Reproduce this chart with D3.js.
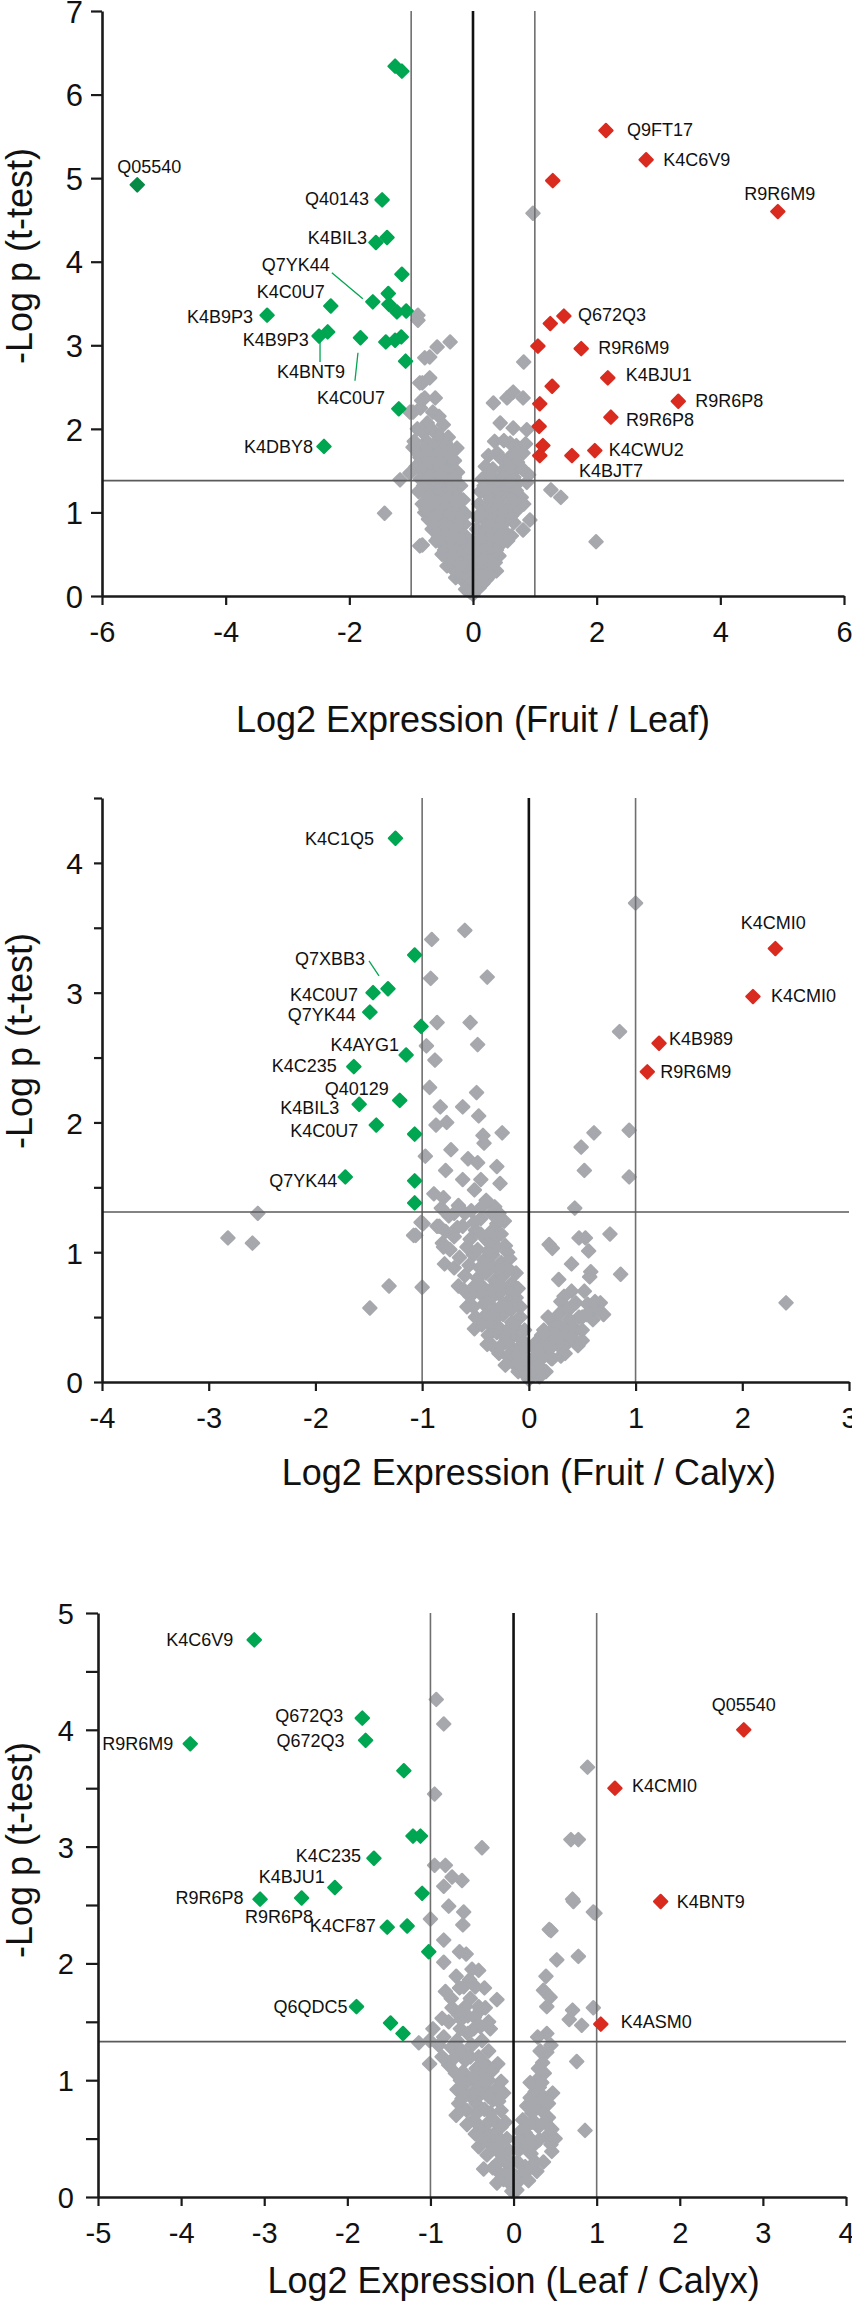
<!DOCTYPE html>
<html>
<head>
<meta charset="utf-8">
<script src="https://cdn.jsdelivr.net/npm/d3@7"></script>
<style>
body { margin: 0; background: #fff; }
text { font-family: "Liberation Sans", Arial, Helvetica, sans-serif; }
</style>
</head>
<body>
<svg id="chart" width="852" height="2303"></svg>
<script>
// ---------- data: Fruit / Leaf ----------
var fruitLeafXTicks = [-6, -4, -2, 0, 2, 4, 6];
var fruitLeafYTicks = [0, 1, 2, 3, 4, 5, 6, 7];
var fruitLeafCut = 1.38;
var fruitLeafDown = [
	[-5.43, 4.92, "Q05540"], [-1.26, 6.34, ""], [-1.15, 6.28, ""], [-1.47, 4.74, "Q40143"],
	[-1.57, 4.23, "K4BIL3"], [-1.39, 4.29, ""], [-1.15, 3.85, ""], [-1.62, 3.52, "Q7YK44"],
	[-2.30, 3.47, "K4C0U7"], [-3.33, 3.36, "K4B9P3"], [-1.37, 3.62, ""], [-1.36, 3.49, ""],
	[-1.23, 3.40, ""], [-1.08, 3.41, ""], [-2.49, 3.11, "K4BNT9"], [-2.35, 3.16, "K4B9P3"],
	[-1.82, 3.09, "K4C0U7"], [-1.41, 3.04, ""], [-1.26, 3.06, ""], [-1.16, 3.10, ""],
	[-1.09, 2.81, ""], [-1.20, 2.24, ""], [-2.41, 1.79, "K4DBY8"]
];
var fruitLeafUp = [
	[2.15, 5.57, "Q9FT17"], [2.80, 5.22, "K4C6V9"], [1.29, 4.97, ""], [4.93, 4.60, "R9R6M9"],
	[1.47, 3.35, "Q672Q3"], [1.25, 3.26, ""], [1.05, 2.99, ""], [1.75, 2.96, "R9R6M9"],
	[2.18, 2.61, "K4BJU1"], [1.28, 2.51, ""], [3.32, 2.33, "R9R6P8"], [1.08, 2.30, ""],
	[2.23, 2.14, "R9R6P8"], [1.07, 2.03, ""], [1.13, 1.80, ""], [1.97, 1.74, "K4CWU2"],
	[1.08, 1.68, ""], [1.60, 1.68, "K4BJT7"]
];
var fruitLeafGray = [
	[0.97,4.58],[-0.89,3.36],[-0.89,3.30],[-0.37,3.04],[-0.58,2.98],[-0.70,2.86],[-0.78,2.85],[0.82,2.80],
	[-0.70,2.61],[-0.82,2.55],[-0.86,2.55],[0.65,2.44],[0.33,2.31],[0.55,2.37],[0.81,2.37],[-0.61,2.37],
	[-0.78,2.37],[-0.83,2.34],[-1.02,2.20],[-0.97,2.20],[-0.48,2.05],[-0.74,2.07],[0.44,2.07],[0.65,2.01],
	[0.87,1.99],[-0.97,1.78],[-0.94,1.78],[-0.57,1.78],[-0.26,1.77],[0.39,1.71],[0.81,1.71],[0.60,1.83],
	[-0.83,1.63],[-0.86,1.66],[-0.48,1.59],[-1.18,1.39],[-1.02,1.47],[-0.81,1.48],[0.49,1.51],[0.23,1.35],
	[0.87,1.36],[1.26,1.27],[1.42,1.18],[-1.43,0.99],[-0.82,0.61],[-0.86,0.60],[-0.70,0.99],[-0.78,1.00],
	[0.81,0.79],[0.92,0.91],[1.99,0.65],
	[-0.85,2.25],[-0.65,2.20],[-0.55,2.15],
	[-0.90,2.00],[-0.80,1.95],[-0.65,1.98],[-0.55,1.92],[-0.40,1.90],
	[-0.95,1.85],[-0.75,1.85],[-0.62,1.82],[-0.45,1.84],[-0.35,1.75],
	[-0.88,1.70],[-0.72,1.72],[-0.60,1.68],[-0.50,1.72],[-0.40,1.66],[-0.30,1.62],
	[-0.92,1.55],[-0.80,1.52],[-0.68,1.56],[-0.58,1.50],[-0.45,1.52],[-0.35,1.50],[-0.25,1.48],
	[-0.85,1.40],[-0.74,1.38],[-0.62,1.42],[-0.52,1.36],[-0.42,1.38],[-0.32,1.34],[-0.20,1.32],
	[-0.88,1.25],[-0.76,1.22],[-0.66,1.26],[-0.55,1.20],[-0.45,1.24],[-0.36,1.18],[-0.26,1.20],[-0.16,1.15],
	[-0.82,1.10],[-0.70,1.08],[-0.60,1.12],[-0.50,1.05],[-0.40,1.08],[-0.30,1.02],[-0.20,1.04],[-0.12,0.98],
	[-0.72,0.92],[-0.62,0.95],[-0.52,0.90],[-0.42,0.94],[-0.34,0.88],[-0.24,0.90],[-0.14,0.86],
	[-0.66,0.80],[-0.56,0.76],[-0.46,0.80],[-0.38,0.74],[-0.28,0.77],[-0.18,0.72],[-0.10,0.70],
	[-0.60,0.66],[-0.50,0.62],[-0.42,0.60],[-0.32,0.63],[-0.22,0.58],[-0.12,0.60],[-0.06,0.55],
	[-0.50,0.50],[-0.40,0.46],[-0.30,0.48],[-0.20,0.44],[-0.10,0.45],
	[-0.42,0.36],[-0.32,0.32],[-0.22,0.34],[-0.14,0.30],[-0.06,0.32],
	[-0.28,0.22],[-0.18,0.20],[-0.10,0.18],[-0.04,0.14],
	[-0.12,0.08],[-0.05,0.05],[0.00,0.02],
	[-0.80,1.32],[-0.58,1.30],[-0.38,1.28],[-0.70,1.18],[-0.46,1.14],[-0.26,1.10],[-0.76,1.04],[-0.56,0.99],
	[-0.36,0.98],[-0.18,0.94],[-0.66,0.88],[-0.46,0.86],[-0.28,0.84],[-0.56,0.70],[-0.34,0.68],[-0.16,0.66],
	[-0.46,0.55],[-0.26,0.53],[-0.14,0.52],[-0.36,0.42],[-0.18,0.38],[-0.24,0.27],[-0.08,0.24],[-0.70,1.62],
	[-0.55,1.62],[-0.78,1.78],[-0.68,1.45],[-0.50,1.44],[-0.30,1.42],
	[0.35,1.85],[0.50,1.86],[0.70,1.80],[0.85,1.82],
	[0.25,1.68],[0.45,1.65],[0.62,1.68],[0.72,1.60],
	[0.20,1.55],[0.32,1.52],[0.55,1.55],[0.68,1.50],[0.80,1.52],[0.90,1.45],
	[0.15,1.40],[0.30,1.38],[0.42,1.40],[0.60,1.36],[0.72,1.35],
	[0.12,1.25],[0.22,1.22],[0.36,1.26],[0.50,1.22],[0.62,1.20],[0.78,1.18],
	[0.10,1.10],[0.20,1.06],[0.32,1.10],[0.45,1.05],[0.58,1.08],[0.70,1.02],[0.82,1.10],
	[0.08,0.94],[0.18,0.92],[0.30,0.96],[0.42,0.90],[0.55,0.92],[0.66,0.88],
	[0.06,0.80],[0.16,0.78],[0.28,0.80],[0.38,0.75],[0.50,0.78],[0.62,0.72],
	[0.05,0.64],[0.14,0.62],[0.24,0.65],[0.34,0.60],[0.45,0.62],
	[0.04,0.50],[0.12,0.48],[0.22,0.50],[0.32,0.46],[0.42,0.48],
	[0.03,0.36],[0.10,0.34],[0.20,0.36],[0.30,0.32],[0.38,0.30],
	[0.04,0.20],[0.12,0.22],[0.22,0.20],
	[0.04,0.08],[0.10,0.10],
	[0.26,1.46],[0.50,1.45],[0.66,1.42],[0.18,1.32],[0.40,1.32],[0.54,1.30],[0.70,1.26],[0.28,1.16],
	[0.42,1.15],[0.66,1.13],[0.14,1.00],[0.36,1.02],[0.50,0.99],[0.62,0.96],[0.24,0.86],[0.46,0.84],
	[0.12,0.70],[0.30,0.70],[0.40,0.68],[0.56,0.66],[0.10,0.56],[0.28,0.56],[0.38,0.55],[0.16,0.42],
	[0.26,0.42],[0.36,0.40],[0.08,0.28],[0.18,0.28],[0.28,0.25],[0.08,0.14],[0.16,0.15]
];

// ---------- data: Fruit / Calyx ----------
var fruitCalyxXTicks = [-4, -3, -2, -1, 0, 1, 2, 3];
var fruitCalyxYTicks = [0, 1, 2, 3, 4];
var fruitCalyxYMinor = [0.5, 1.5, 2.5, 3.5, 4.5];
var fruitCalyxCut = 1.31;
var fruitCalyxDown = [
	[-1.25, 4.19, "K4C1Q5"], [-1.07, 3.29, ""], [-1.32, 3.03, "Q7XBB3"], [-1.46, 3.00, "K4C0U7"],
	[-1.49, 2.85, "Q7YK44"], [-1.01, 2.74, ""], [-1.15, 2.52, "K4AYG1"], [-1.64, 2.43, "K4C235"],
	[-1.21, 2.17, "Q40129"], [-1.59, 2.14, "K4BIL3"], [-1.43, 1.98, "K4C0U7"], [-1.07, 1.91, ""],
	[-1.72, 1.58, "Q7YK44"], [-1.07, 1.55, ""], [-1.07, 1.38, ""]
];
var fruitCalyxUp = [
	[2.31, 3.34, "K4CMI0"], [2.10, 2.97, "K4CMI0"], [1.22, 2.61, "K4B989"], [1.11, 2.39, "R9R6M9"]
];
var fruitCalyxGray = [
	[1.00,3.69],[0.85,2.70],[-0.91,3.41],[-0.60,3.48],[-0.92,3.11],[-0.39,3.12],[-0.86,2.77],[-0.55,2.77],
	[-0.96,2.59],[-0.48,2.60],[-0.88,2.48],[-0.93,2.27],[-0.49,2.23],[-0.83,2.12],[-0.62,2.12],[-0.47,2.05],
	[-0.87,1.98],[-0.77,2.00],[-0.43,1.90],[-0.25,1.92],[-0.97,1.74],[-0.73,1.79],[-0.57,1.72],[-0.42,1.84],
	[-0.30,1.66],[-0.48,1.69],[-0.78,1.63],[-0.62,1.56],[-0.45,1.56],[-0.27,1.53],[-0.89,1.45],[-0.80,1.42],
	[-0.51,1.48],[-0.40,1.40],[-0.32,1.35],[-0.70,1.30],[-1.01,1.23],[-0.86,1.20],[-0.67,1.19],[-0.51,1.23],
	[-0.23,1.24],[-1.08,1.13],[-0.81,1.07],[-0.39,1.09],[0.19,1.06],
	[0.61,1.92],[0.49,1.81],[0.94,1.94],[0.52,1.63],[0.94,1.58],[0.43,1.34],[0.76,1.14],[0.47,1.11],
	[0.53,1.11],[0.22,1.03],[0.56,1.01],[0.40,0.91],[0.58,0.85],[0.57,0.81],[0.86,0.83],[0.28,0.79],
	[2.41,0.61],[0.67,0.61],[0.70,0.52],[0.33,0.66],[0.44,0.61],[0.47,0.50],[0.43,0.39],[0.44,0.30],
	[0.31,0.27],[0.21,0.18],[0.16,0.35],[0.24,0.45],[0.08,0.11],
	[-2.54,1.30],[-2.82,1.11],[-2.59,1.07],[-1.31,0.74],[-1.00,0.73],[-1.49,0.57],[-1.06,1.13],[-0.99,1.22],
	[-0.84,1.20],[-0.80,1.04],[-0.79,0.91],[-0.58,0.58],[-0.51,0.41],[-0.39,0.29],[-0.61,0.71],
	[-0.75,1.28],[-0.60,1.30],[-0.45,1.26],[-0.35,1.30],[-0.30,1.22],
	[-0.70,1.12],[-0.55,1.10],[-0.45,1.14],[-0.38,1.08],[-0.30,1.12],[-0.22,1.05],
	[-0.65,0.96],[-0.52,0.98],[-0.42,0.94],[-0.34,0.98],[-0.26,0.92],[-0.18,0.95],
	[-0.60,0.82],[-0.48,0.80],[-0.40,0.84],[-0.32,0.78],[-0.24,0.82],[-0.16,0.76],
	[-0.55,0.66],[-0.45,0.68],[-0.36,0.64],[-0.28,0.68],[-0.20,0.62],[-0.12,0.65],
	[-0.50,0.50],[-0.40,0.52],[-0.32,0.48],[-0.24,0.52],[-0.16,0.46],[-0.08,0.50],
	[-0.38,0.36],[-0.30,0.38],[-0.22,0.34],[-0.14,0.36],[-0.06,0.32],
	[-0.28,0.22],[-0.20,0.20],[-0.12,0.22],[-0.05,0.18],
	[-0.10,0.08],[-0.04,0.06],[0.00,0.02],
	[-0.82,1.34],[-0.66,1.36],[-0.54,1.32],[-0.44,1.35],[-0.28,1.30],
	[-0.78,1.16],[-0.62,1.20],[-0.50,1.17],[-0.34,1.17],[-0.26,1.14],
	[-0.74,1.02],[-0.58,1.04],[-0.48,1.02],[-0.38,1.01],[-0.30,1.04],[-0.20,1.00],
	[-0.70,0.88],[-0.56,0.90],[-0.46,0.88],[-0.36,0.90],[-0.28,0.86],[-0.20,0.88],[-0.12,0.84],
	[-0.66,0.74],[-0.52,0.73],[-0.44,0.74],[-0.36,0.71],[-0.26,0.74],[-0.18,0.70],[-0.10,0.72],
	[-0.52,0.58],[-0.42,0.60],[-0.32,0.56],[-0.24,0.60],[-0.16,0.56],[-0.08,0.58],
	[-0.44,0.44],[-0.36,0.44],[-0.28,0.42],[-0.20,0.40],[-0.12,0.42],[-0.04,0.40],
	[-0.34,0.28],[-0.26,0.28],[-0.18,0.28],[-0.10,0.26],[-0.03,0.26],
	[-0.22,0.13],[-0.14,0.14],[-0.07,0.12],[0.02,0.12],
	[0.30,0.62],[0.40,0.58],[0.55,0.60],[0.62,0.55],
	[0.18,0.50],[0.28,0.52],[0.38,0.48],[0.50,0.50],[0.60,0.48],
	[0.14,0.40],[0.24,0.42],[0.32,0.38],[0.42,0.42],
	[0.10,0.30],[0.18,0.32],[0.28,0.28],[0.36,0.30],[0.46,0.28],
	[0.06,0.20],[0.14,0.22],[0.22,0.18],[0.30,0.20],
	[0.04,0.10],[0.10,0.12],[0.16,0.08],
	[0.06,0.30],[0.12,0.36],[0.22,0.36],[0.28,0.44],[0.36,0.42],[0.20,0.26],[0.26,0.34],[0.34,0.22],
	[0.40,0.34],[0.50,0.40],[0.54,0.52],[0.62,0.62],[0.10,0.04],[0.06,0.15],[0.12,0.18],[0.08,0.24],
	[0.40,0.70],[0.52,0.70],[0.36,0.56],[0.50,0.32]
];

// ---------- data: Leaf / Calyx ----------
var leafCalyxXTicks = [-5, -4, -3, -2, -1, 0, 1, 2, 3, 4];
var leafCalyxYTicks = [0, 1, 2, 3, 4, 5];
var leafCalyxYMinor = [0.5, 1.5, 2.5, 3.5, 4.5];
var leafCalyxCut = 1.33;
var leafCalyxDown = [
	[-3.12, 4.77, "K4C6V9"], [-1.82, 4.10, "Q672Q3"], [-3.89, 3.88, "R9R6M9"], [-1.78, 3.91, "Q672Q3"],
	[-1.32, 3.65, ""], [-1.21, 3.09, ""], [-1.12, 3.09, ""], [-1.68, 2.90, "K4C235"],
	[-2.15, 2.65, "K4BJU1"], [-3.05, 2.55, "R9R6P8"], [-2.55, 2.56, "R9R6P8"], [-1.10, 2.60, ""],
	[-1.52, 2.31, "K4CF87"], [-1.28, 2.32, ""], [-1.02, 2.10, ""], [-1.89, 1.63, "Q6QDC5"],
	[-1.48, 1.49, ""], [-1.33, 1.40, ""]
];
var leafCalyxUp = [
	[2.77, 4.00, "Q05540"], [1.22, 3.50, "K4CMI0"], [1.77, 2.53, "K4BNT9"], [1.05, 1.48, "K4ASM0"]
];
var leafCalyxGray = [
	[-0.93,4.26],[-0.84,4.05],[0.89,3.68],[-0.95,3.45],[0.69,3.06],[0.78,3.06],[-0.38,2.99],[-0.95,2.84],
	[-0.82,2.84],[-0.74,2.74],[-0.62,2.71],[-0.84,2.66],[0.71,2.55],[0.96,2.44],[-0.78,2.49],[-0.60,2.44],
	[-1.00,2.38],[-0.61,2.33],[0.43,2.29],
	[-0.84,2.20],[-0.57,2.08],[-0.84,2.01],[-0.42,1.94],[-0.69,1.89],[-0.53,1.86],[-0.35,1.79],[-0.82,1.76],
	[-0.65,1.79],[-0.20,1.69],[-0.42,1.63],[-0.74,1.62],[-0.58,1.63],[-0.86,1.53],[-0.63,1.52],[-0.47,1.54],
	[-0.28,1.44],[-0.48,1.44],[-0.97,1.44],[-1.14,1.32],[-1.01,1.34],[-0.84,1.37],[-0.68,1.34],[-0.38,1.34],
	[-1.01,1.14],[-0.78,1.13],[-0.58,1.17],[-0.42,1.20],[-0.19,1.14],[-0.61,1.07],[-0.38,1.06],[-0.55,0.99],
	[-0.35,0.94],[-0.15,0.99],[-0.68,0.92],[-0.12,0.89],[-0.66,0.80],[-0.45,0.80],[-0.25,0.83],[-0.69,0.70],
	[-0.48,0.66],[-0.28,0.72],[-0.15,0.74],[-0.35,0.57],[-0.22,0.55],[-0.42,0.43],[-0.25,0.43],[-0.12,0.37],
	[-0.19,0.29],[-0.09,0.20],[-0.05,0.12],[-0.02,0.05],
	[-0.50,1.30],[-0.30,1.25],[-0.55,1.40],[-0.70,1.20],[-0.45,1.10],[-0.30,1.00],[-0.50,0.85],[-0.35,0.75],
	[-0.60,0.90],[-0.40,0.60],[-0.30,0.50],[-0.20,0.40],[-0.10,0.30],[-0.15,0.60],[-0.08,0.50],[-0.25,0.25],
	[-0.12,0.15],[-0.05,0.22],[-0.55,1.55],[-0.40,1.60],[-0.30,1.50],[-0.75,1.70],[-0.50,1.95],[-0.65,2.10],
	[-0.75,1.28],[-0.62,1.25],[-0.52,1.20],[-0.34,1.14],[-0.26,1.08],[-0.70,1.06],[-0.50,1.02],[-0.42,0.96],
	[-0.22,0.92],[-0.62,0.84],[-0.40,0.88],[-0.30,0.86],[-0.18,0.82],[-0.56,0.74],[-0.44,0.72],[-0.24,0.66],
	[-0.10,0.64],[-0.56,0.62],[-0.46,0.54],[-0.36,0.48],[-0.14,0.48],[-0.32,0.36],[-0.06,0.40],[-0.30,0.64],
	[-0.16,0.20],[-0.04,0.30],[-0.20,0.12],[-0.36,0.24],[-0.64,1.44],[-0.40,1.46],[-0.66,1.56],[-0.34,1.62],
	[-0.52,1.70],[-0.60,1.80],[-0.46,1.80],[-0.78,1.50],[-0.90,1.30],[-0.86,1.20],[-0.64,1.00],[-0.48,0.90],
	[0.29,1.37],[0.40,1.24],[0.37,1.06],[0.31,0.94],[0.47,0.89],[0.37,0.85],[0.34,0.74],[0.11,0.66],
	[0.27,0.63],[0.40,0.52],[0.14,0.55],[0.31,0.49],[0.46,0.39],[0.36,0.30],[0.21,0.37],[0.11,0.43],
	[0.14,0.26],[0.08,0.15],[0.04,0.06],[0.86,0.57],[0.76,1.16],[0.39,1.89],[0.36,1.77],[0.44,1.71],
	[0.40,1.63],[0.52,2.03],[0.45,2.28],[0.78,2.06],[0.96,1.62],[0.71,1.60],[0.67,1.52],[0.82,1.47],
	[0.98,2.43],[0.72,2.53],
	[0.05,0.30],[0.10,0.20],[0.20,0.50],[0.25,0.45],[0.25,0.75],[0.20,0.85],[0.15,0.60],[0.30,0.60],
	[0.45,0.45],[0.38,0.65],[0.28,1.00],[0.35,1.15],[0.32,1.25],[0.20,0.25],
	[0.02,0.18],[0.18,0.14],[0.26,0.30],[0.28,0.22],[0.22,0.64],[0.06,0.40],[0.18,0.44],[0.08,0.56],
	[0.22,0.72],[0.16,0.78],[0.30,0.82],[0.42,0.80],[0.26,0.90],[0.20,0.98],[0.34,0.98],[0.42,0.68],
	[0.46,0.58],[0.50,0.50],[0.06,0.48],[0.30,1.10],[0.40,1.40],[0.45,1.30]
];

// ---------- layout ----------
var GRAY = "#a6a8ad", GREEN = "#00a651", DARKGREEN = "#068a45", RED = "#d92b1f";

// label offsets from the marker: [dx, dy, anchor, leader]
var fruitLeafDownPlace = {
	0: [12, -12, "middle"], 3: [-13, 5, "end"], 4: [-9, 2, "end"],
	7: [-43, -31, "end", [-41, -29, -10, -3]], 8: [-6, -8, "end"], 9: [-14, 8, "end"],
	14: [-8, 42, "middle", [1, 6, 1, 26]], 15: [-19, 14, "end"],
	16: [-9.5, 66, "middle", [-2.5, 15, -5.5, 43]], 22: [-11, 7, "end"]
};
var fruitLeafUpPlace = {
	0: [21, 5, "start"], 1: [17, 6, "start"], 3: [2, -12, "middle"], 4: [14, 5, "start"],
	7: [17, 5, "start"], 8: [18, 3, "start"], 10: [17, 6, "start"], 12: [15, 9, "start"],
	15: [14, 5, "start"], 17: [7, 21, "start"]
};
var fruitCalyxDownPlace = {
	0: [-21.5, 7, "end"], 2: [-23, -24, "end", [-19, -28, -9, -13]], 3: [-15, 8, "end"],
	4: [-14, 9, "end"], 6: [-7, -4, "end"], 7: [-17, 5, "end"], 8: [-11, -5, "end"],
	9: [-20, 10, "end"], 10: [-18, 12, "end"], 12: [-8, 10, "end"]
};
var fruitCalyxUpPlace = {
	0: [-2, -20, "middle"], 1: [18, 5, "start"], 2: [10, 2, "start"], 3: [13, 6, "start"]
};
var leafCalyxDownPlace = {
	0: [-21, 6, "end"], 1: [-19, 4, "end"], 2: [-17, 6, "end"], 3: [-21, 7, "end"],
	7: [-13, 4, "end"], 8: [-10, -4.5, "end"], 9: [-16.5, 5, "end"], 10: [-22.5, 25, "middle"],
	12: [-11.5, 5, "end"], 15: [-9, 6, "end"]
};
var leafCalyxUpPlace = {
	0: [0, -19, "middle"], 1: [17, 4, "start"], 2: [16, 6.5, "start"], 3: [20, 4, "start"]
};

var panels = [
	{
		gray: fruitLeafGray, down: fruitLeafDown, up: fruitLeafUp,
		downPlace: fruitLeafDownPlace, upPlace: fruitLeafUpPlace,
		xDomain: [-6, 6], xRange: [102, 844], yDomain: [0, 7], yRange: [596, 11],
		xTicks: fruitLeafXTicks, yTicks: fruitLeafYTicks, yMinor: [], cut: fruitLeafCut,
		yTick: 11, yPad: 8, yFont: 31, title: "Log2 Expression (Fruit / Leaf)", titleY: 732,
		yTitleY: 256, darkFirst: true
	},
	{
		gray: fruitCalyxGray, down: fruitCalyxDown, up: fruitCalyxUp,
		downPlace: fruitCalyxDownPlace, upPlace: fruitCalyxUpPlace,
		xDomain: [-4, 3], xRange: [102, 849], yDomain: [0, 4.5], yRange: [1382, 798],
		xTicks: fruitCalyxXTicks, yTicks: fruitCalyxYTicks, yMinor: fruitCalyxYMinor, cut: fruitCalyxCut,
		yTick: 8, yPad: 11, yFont: 30, title: "Log2 Expression (Fruit / Calyx)", titleY: 1485,
		yTitleY: 1041, darkFirst: false
	},
	{
		gray: leafCalyxGray, down: leafCalyxDown, up: leafCalyxUp,
		downPlace: leafCalyxDownPlace, upPlace: leafCalyxUpPlace,
		xDomain: [-5, 4], xRange: [98, 846], yDomain: [0, 5], yRange: [2197, 1613],
		xTicks: leafCalyxXTicks, yTicks: leafCalyxYTicks, yMinor: leafCalyxYMinor, cut: leafCalyxCut,
		yTick: 12, yPad: 12, yFont: 29, title: "Log2 Expression (Leaf / Calyx)", titleY: 2293,
		yTitleY: 1850, darkFirst: false
	}
];

var svg = d3.select("#chart");
var diamond = d3.symbol().type(d3.symbolSquare).size(88);

function drawMarks(g, pts, color, x, y)
{
	g.selectAll(null)
		.data(pts)
		.join("path")
		.attr("d", diamond)
		.attr("transform", function(d){ return "translate(" + x(d[0]) + "," + y(d[1]) + ") rotate(45)"; })
		.attr("fill", function(d, i){ return typeof color == "function" ? color(i) : color; })
		.attr("stroke", function(d, i){ return typeof color == "function" ? color(i) : color; })
		.attr("stroke-width", 2.2)
		.attr("stroke-linejoin", "round");
}

function drawLabels(g, pts, place, x, y)
{
	for (var key in place)
	{
		var d = pts[key], p = place[key];
		var px = x(d[0]), py = y(d[1]);
		if (p[3])
		{
			g.append("line")
				.attr("x1", px + p[3][0]).attr("y1", py + p[3][1])
				.attr("x2", px + p[3][2]).attr("y2", py + p[3][3])
				.attr("stroke", GREEN).attr("stroke-width", 1.3);
		}
		g.append("text")
			.attr("x", px + p[0]).attr("y", py + p[1])
			.attr("text-anchor", p[2])
			.attr("font-size", 18)
			.attr("fill", "#111")
			.text(d[2]);
	}
}

function drawPanel(cfg)
{
	var x = d3.scaleLinear().domain(cfg.xDomain).range(cfg.xRange);
	var y = d3.scaleLinear().domain(cfg.yDomain).range(cfg.yRange);
	var g = svg.append("g");
	var top = cfg.yRange[1], bottom = cfg.yRange[0];

	drawMarks(g, cfg.gray, GRAY, x, y);

	// threshold guides
	[-1, 1].forEach(function(v){
		g.append("line")
			.attr("x1", x(v)).attr("x2", x(v))
			.attr("y1", top).attr("y2", bottom)
			.attr("stroke", "#6f6f6f").attr("stroke-width", 1.6);
	});
	g.append("line")
		.attr("x1", cfg.xRange[0]).attr("x2", cfg.xRange[1])
		.attr("y1", y(cfg.cut)).attr("y2", y(cfg.cut))
		.attr("stroke", "#5a5a5a").attr("stroke-width", 1.6);
	g.append("line")
		.attr("x1", x(0)).attr("x2", x(0))
		.attr("y1", top).attr("y2", bottom)
		.attr("stroke", "#111").attr("stroke-width", 2.6);

	drawMarks(g, cfg.down, function(i){ return (cfg.darkFirst && i == 0) ? DARKGREEN : GREEN; }, x, y);
	drawMarks(g, cfg.up, RED, x, y);
	drawLabels(g, cfg.down, cfg.downPlace, x, y);
	drawLabels(g, cfg.up, cfg.upPlace, x, y);

	// axes
	var xAxis = g.append("g")
		.attr("transform", "translate(0," + bottom + ")")
		.call(d3.axisBottom(x).tickValues(cfg.xTicks).tickSize(9).tickSizeOuter(0).tickPadding(16)
			.tickFormat(function(d){ return String(d); }));
	var yAxis = g.append("g")
		.attr("transform", "translate(" + cfg.xRange[0] + ",0)")
		.call(d3.axisLeft(y).tickValues(cfg.yTicks).tickSize(cfg.yTick).tickSizeOuter(0).tickPadding(cfg.yPad)
			.tickFormat(function(d){ return String(d); }));
	if (cfg.yMinor.length)
	{
		g.append("g")
			.attr("transform", "translate(" + cfg.xRange[0] + ",0)")
			.call(d3.axisLeft(y).tickValues(cfg.yMinor).tickSize(cfg.yTick).tickSizeOuter(0).tickFormat(""))
			.select(".domain").remove();
	}
	g.selectAll(".domain").attr("stroke", "#1a1a1a").attr("stroke-width", 2.6);
	g.selectAll(".tick line").attr("stroke", "#1a1a1a").attr("stroke-width", 2.2);
	g.selectAll(".tick text")
		.attr("font-family", "'Liberation Sans', Arial, sans-serif")
		.attr("font-size", 29)
		.attr("fill", "#111");
	yAxis.selectAll(".tick text").attr("dy", "0.36em").attr("font-size", cfg.yFont);

	// titles
	g.append("text")
		.attr("x", x(0)).attr("y", cfg.titleY)
		.attr("text-anchor", "middle")
		.attr("font-size", 36)
		.attr("fill", "#111")
		.text(cfg.title);
	g.append("text")
		.attr("transform", "translate(32," + cfg.yTitleY + ") rotate(-90)")
		.attr("text-anchor", "middle")
		.attr("font-size", 36)
		.attr("fill", "#111")
		.text("-Log p (t-test)");
}

panels.forEach(drawPanel);
</script>
</body>
</html>
